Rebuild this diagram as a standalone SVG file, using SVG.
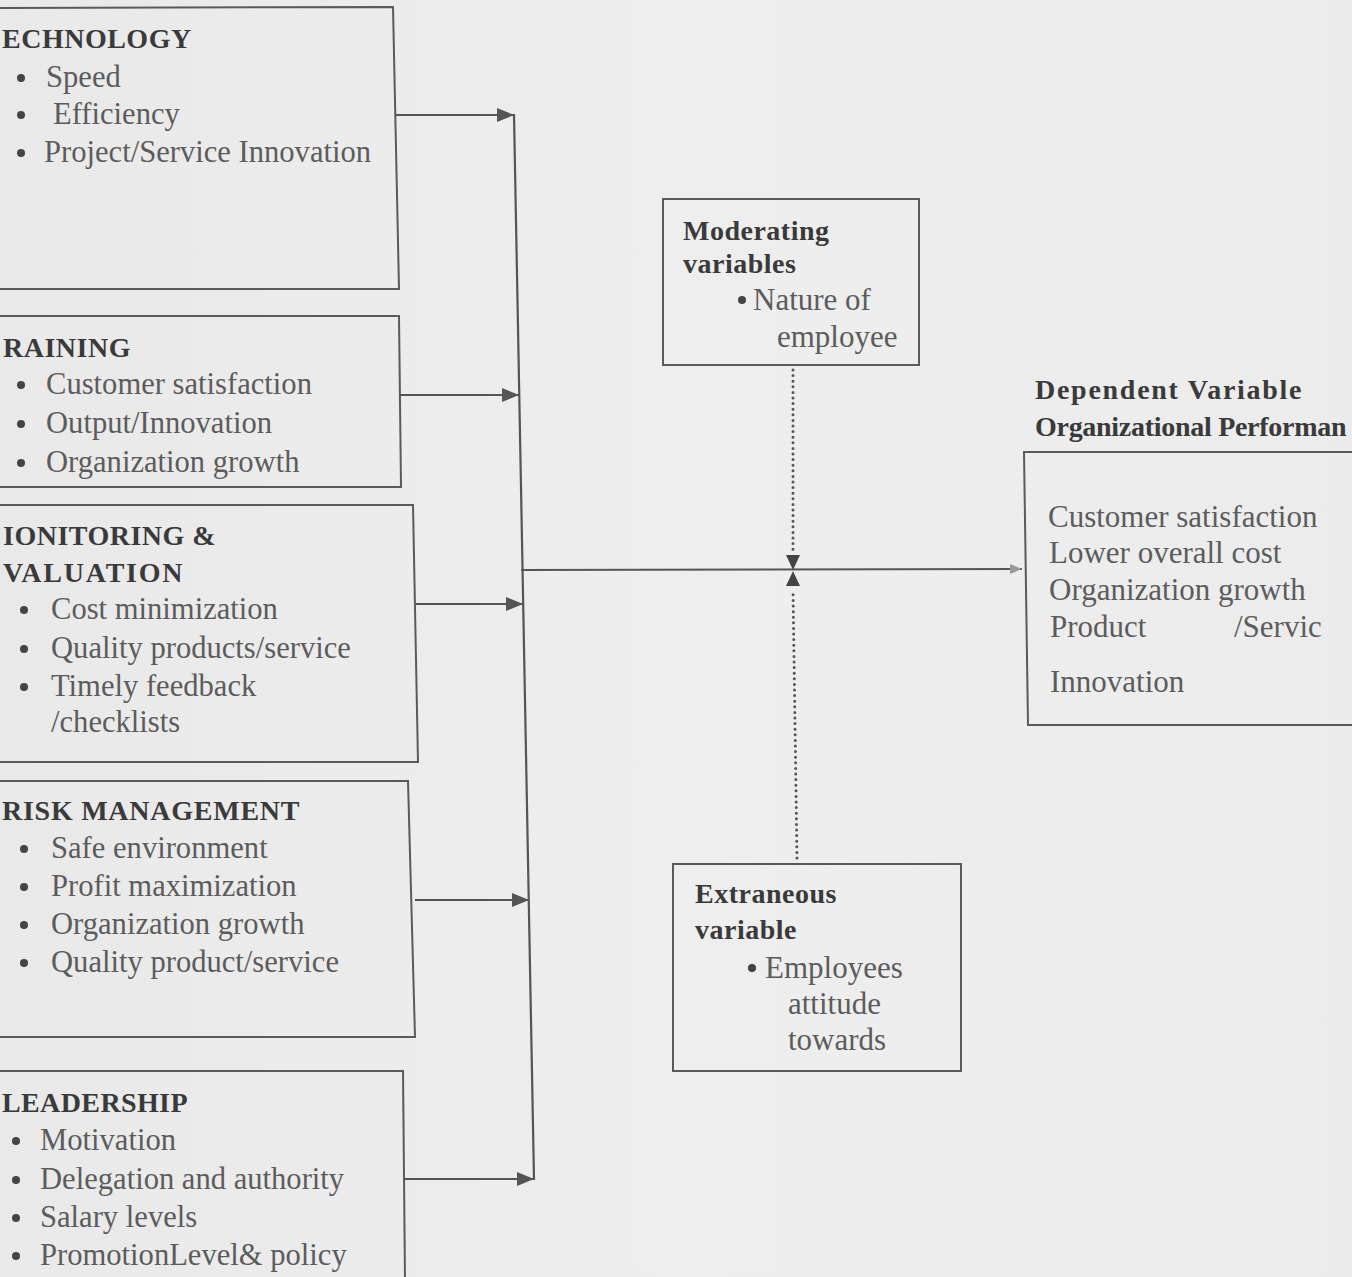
<svg xmlns="http://www.w3.org/2000/svg" width="1352" height="1277" viewBox="0 0 1352 1277">
<defs>
<marker id="ah" viewBox="0 0 17 14" refX="17" refY="7" markerWidth="17" markerHeight="14" orient="auto" markerUnits="userSpaceOnUse"><path d="M0,0 L17,7 L0,14 Z" fill="#555"/></marker>
<marker id="ahs" viewBox="0 0 12 10" refX="12" refY="5" markerWidth="12" markerHeight="10" orient="auto" markerUnits="userSpaceOnUse"><path d="M0,0 L12,5 L0,10 Z" fill="#999"/></marker>
<linearGradient id="bg" x1="0" y1="0" x2="1" y2="0"><stop offset="0" stop-color="#e9e9e9"/><stop offset="0.5" stop-color="#eeeeee"/><stop offset="1" stop-color="#ececec"/></linearGradient>
</defs>
<style>
.box{fill:none;stroke:#5a5a5a;stroke-width:2}
.ln{fill:none;stroke:#555;stroke-width:2.2}
.dot{fill:none;stroke:#555;stroke-width:3;stroke-linecap:round;stroke-dasharray:0 5.6}
.h{font-family:"Liberation Serif","Times New Roman",serif;font-weight:bold;font-size:28px;letter-spacing:0.5px;fill:#3a3a3a}
.t{font-family:"Liberation Serif","Times New Roman",serif;font-size:30.6px;fill:#5c5c5c}
.t2{font-family:"Liberation Serif","Times New Roman",serif;font-size:31px;fill:#5c5c5c}
.b{fill:#444}
</style>
<rect x="0" y="0" width="1352" height="1277" fill="url(#bg)"/>

<g id="technology">
<polyline class="box" points="-5,8 393,7 399,289 -5,289"/>
<text class="h" x="2" y="48">ECHNOLOGY</text>
<circle class="b" cx="21" cy="78" r="4"/><text class="t" x="46" y="87">Speed</text>
<circle class="b" cx="21" cy="115" r="4"/><text class="t" x="53" y="124">Efficiency</text>
<circle class="b" cx="21" cy="153" r="4"/><text class="t" x="44" y="162">Project/Service Innovation</text>
</g>

<g id="training">
<polyline class="box" points="-5,316 399,316 401,487 -5,487"/>
<text class="h" x="3" y="357">RAINING</text>
<circle class="b" cx="21" cy="385" r="4"/><text class="t" x="46" y="394">Customer satisfaction</text>
<circle class="b" cx="21" cy="424" r="4"/><text class="t" x="46" y="433">Output/Innovation</text>
<circle class="b" cx="21" cy="463" r="4"/><text class="t" x="46" y="472">Organization growth</text>
</g>

<g id="monitoring">
<polyline class="box" points="-5,505 413,505 418,762 -5,762"/>
<text class="h" x="3" y="545">IONITORING &amp;</text>
<text class="h" x="3" y="582" textLength="180">VALUATION</text>
<circle class="b" cx="24" cy="610" r="4"/><text class="t" x="51" y="619">Cost minimization</text>
<circle class="b" cx="24" cy="649" r="4"/><text class="t" x="51" y="658">Quality products/service</text>
<circle class="b" cx="24" cy="687" r="4"/><text class="t" x="51" y="696">Timely feedback</text>
<text class="t" x="51" y="732">/checklists</text>
</g>

<g id="risk">
<polyline class="box" points="-5,781 408,781 415,1037 -5,1037"/>
<text class="h" x="2" y="820" textLength="298">RISK MANAGEMENT</text>
<circle class="b" cx="24" cy="849" r="4"/><text class="t" x="51" y="858">Safe environment</text>
<circle class="b" cx="24" cy="887" r="4"/><text class="t" x="51" y="896">Profit maximization</text>
<circle class="b" cx="24" cy="925" r="4"/><text class="t" x="51" y="934">Organization growth</text>
<circle class="b" cx="24" cy="963" r="4"/><text class="t" x="51" y="972">Quality product/service</text>
</g>

<g id="leadership">
<polyline class="box" points="-5,1071 403,1071 405,1280"/>
<text class="h" x="2" y="1112" textLength="186">LEADERSHIP</text>
<circle class="b" cx="16" cy="1141" r="4"/><text class="t" x="40" y="1150">Motivation</text>
<circle class="b" cx="16" cy="1180" r="4"/><text class="t" x="40" y="1189">Delegation and authority</text>
<circle class="b" cx="16" cy="1218" r="4"/><text class="t" x="40" y="1227">Salary levels</text>
<circle class="b" cx="16" cy="1256" r="4"/><text class="t" x="40" y="1265">PromotionLevel&amp; policy</text>
</g>

<g id="moderating">
<rect class="box" x="663" y="199" width="256" height="166"/>
<text class="h" x="683" y="240">Moderating</text>
<text class="h" x="683" y="273">variables</text>
<circle class="b" cx="742" cy="300" r="4"/><text class="t2" x="753" y="310">Nature of</text>
<text class="t2" x="777" y="347">employee</text>
</g>

<g id="extraneous">
<rect class="box" x="673" y="864" width="288" height="207"/>
<text class="h" x="695" y="903">Extraneous</text>
<text class="h" x="695" y="939">variable</text>
<circle class="b" cx="752" cy="968" r="4"/><text class="t2" x="765" y="978">Employees</text>
<text class="t2" x="788" y="1014">attitude</text>
<text class="t2" x="788" y="1050">towards</text>
</g>

<g id="dependent">
<text class="h" x="1035" y="399" textLength="267">Dependent Variable</text>
<text class="h" x="1035" y="436" textLength="312">Organizational Performan</text>
<polyline class="box" points="1360,452 1024,452 1028,725 1360,725"/>
<text class="t2" x="1048" y="527">Customer satisfaction</text>
<text class="t2" x="1049" y="563">Lower overall cost</text>
<text class="t2" x="1049" y="600">Organization growth</text>
<text class="t2" x="1050" y="637">Product</text>
<text class="t2" x="1234" y="637">/Servic</text>
<text class="t2" x="1050" y="692">Innovation</text>
</g>

<g id="connectors">
<line class="ln" x1="395" y1="115" x2="514" y2="115" marker-end="url(#ah)"/>
<line class="ln" x1="400" y1="395" x2="519" y2="395" marker-end="url(#ah)"/>
<line class="ln" x1="416" y1="604" x2="523" y2="604" marker-end="url(#ah)"/>
<line class="ln" x1="415" y1="900" x2="529" y2="900" marker-end="url(#ah)"/>
<line class="ln" x1="404" y1="1179" x2="534" y2="1179" marker-end="url(#ah)"/>
<line class="ln" x1="514" y1="114" x2="534" y2="1180"/>
<line class="ln" x1="521" y1="570" x2="1022" y2="569" marker-end="url(#ahs)"/>
<line class="dot" x1="793" y1="370" x2="793" y2="552"/>
<path d="M786,555 L800,555 L793,570 Z" fill="#444"/>
<line class="dot" x1="797" y1="858" x2="793" y2="590"/>
<path d="M786,586 L800,586 L793,571 Z" fill="#444"/>
</g>
</svg>
